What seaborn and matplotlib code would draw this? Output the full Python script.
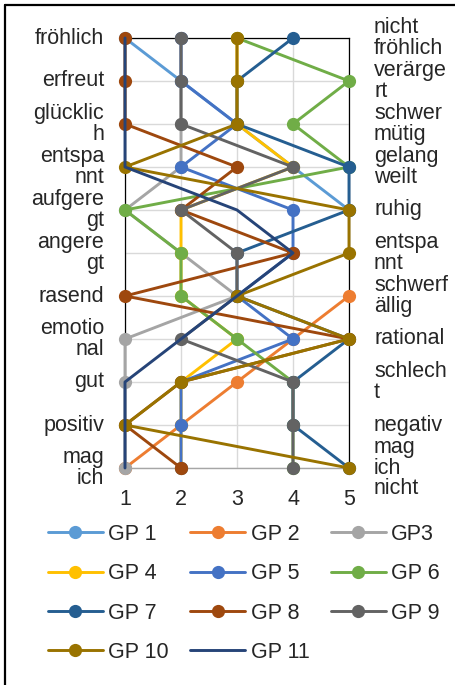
import numpy as np
import pandas as pd
import matplotlib
matplotlib.use("Agg")
import matplotlib.pyplot as plt
from matplotlib.lines import Line2D
import seaborn as sns

# Adjective pairs (left pole / right pole), top to bottom
left_labels = ["fröhlich", "erfreut", "glücklic\nh", "entspa\nnnt", "aufgere\ngt",
               "angere\ngt", "rasend", "emotio\nnal", "gut", "positiv", "mag\nich"]
right_labels = ["nicht\nfröhlich", "verärge\nrt", "schwer\nmütig", "gelang\nweilt", "ruhig",
                "entspa\nnnt", "schwerf\nällig", "rational", "schlech\nt", "negativ", "mag\nich\nnicht"]
scale_ticks = [1, 2, 3, 4, 5]

nan = np.nan
series_names = ["GP 1", "GP 2", "GP3", "GP 4", "GP 5", "GP 6",
                "GP 7", "GP 8", "GP 9", "GP 10", "GP 11"]
gp1 = [1, 2, 3, 4, 5, nan, nan, nan, nan, nan, nan]
gp2 = [nan, nan, nan, nan, nan, nan, 5, 4, 3, 2, 1]
gp3 = [2, 2, 2, 2, 1, 2, 3, 1, 1, 1, 1]
gp4 = [3, 3, 3, 4, 2, 2, 2, 3, 2, 2, 2]
gp5 = [2, 2, 3, 2, 4, 4, 3, 4, 2, 2, 2]
gp6 = [3, 5, 4, 5, 1, 2, 2, 3, 4, 4, 4]
gp7 = [4, 3, 3, 5, 5, 3, 3, 5, 4, 4, 5]
gp8 = [1, 1, 1, 3, 2, 4, 1, 5, 2, 1, 2]
gp9 = [2, 2, 2, 4, 2, 3, 3, 2, 4, 4, 4]
gp10 = [3, 3, 3, 1, 5, 5, 3, 5, 2, 1, 5]
gp11 = [1, 1, 1, 1, 3, 4, 3, 2, 1, 1, 1]
all_series = [gp1, gp2, gp3, gp4, gp5, gp6, gp7, gp8, gp9, gp10, gp11]

colors = ["#5B9BD5", "#ED7D31", "#A5A5A5", "#FFC000", "#4472C4", "#70AD47",
          "#255E91", "#9E480E", "#636363", "#997300", "#264478"]
has_marker = [True] * 10 + [False]

sns.set_style("white")
plt.rcParams["font.family"] = ["Liberation Sans", "DejaVu Sans"]
FS = 15.5

W, H = 455, 685
fig = plt.figure(figsize=(W / 100, H / 100), dpi=100)
ax = fig.add_axes([125 / W, 1 - 468 / H, 224 / W, 430 / H])

rows = np.arange(len(left_labels))
handles = []
for i, (name, vals, col, mk) in enumerate(zip(series_names, all_series, colors, has_marker)):
    df = pd.DataFrame({"wert": vals, "zeile": rows}).dropna()
    sns.lineplot(data=df, x="wert", y="zeile", sort=False, estimator=None, ax=ax,
                 color=col, lw=2.1, marker="o" if mk else None, ms=9.5,
                 markeredgewidth=0, clip_on=False, zorder=3 + i)
    handles.append(Line2D([], [], color=col, lw=2.1, marker="o" if mk else None,
                          ms=9.5, markeredgewidth=0))

ax.set_xlim(1, 5)
ax.set_ylim(len(left_labels) - 1, 0)
ax.set_xlabel("")
ax.set_ylabel("")

# grid and ticks
ax.set_xticks(scale_ticks)
ax.set_xticklabels([str(t) for t in scale_ticks], fontsize=FS)
ax.set_yticks(rows)
ax.set_yticklabels(left_labels, fontsize=FS, va="center")
for t in ax.get_yticklabels():
    t.set_linespacing(1.0)
ax.grid(True, color="#D9D9D9", lw=1.0)
ax.set_axisbelow(True)
ax.tick_params(axis="both", length=0)
ax.tick_params(axis="y", pad=15)
ax.tick_params(axis="x", pad=15)
for side in ["top", "left", "right"]:
    ax.spines[side].set_color("black")
    ax.spines[side].set_linewidth(0.9)
ax.spines["bottom"].set_color("#A6A6A6")
ax.spines["bottom"].set_linewidth(1.0)

# right-hand poles
ax2 = ax.twinx()
ax2.set_ylim(ax.get_ylim())
ax2.set_yticks(rows)
ax2.set_yticklabels(right_labels, fontsize=FS, va="center")
for t in ax2.get_yticklabels():
    t.set_linespacing(1.0)
ax2.tick_params(axis="y", length=0, pad=18)
for s in ax2.spines.values():
    s.set_visible(False)

# legend, filled row by row
order = [0, 3, 6, 9, 1, 4, 7, 10, 2, 5, 8]
fig.legend([handles[k] for k in order], [series_names[k] for k in order],
           ncol=3, loc="upper left", bbox_to_anchor=(48 / W, 1 - 524 / H),
           frameon=False, fontsize=FS, handlelength=2.55, handletextpad=0.25,
           columnspacing=1.0, labelspacing=0.85, borderpad=0, borderaxespad=0)

# outer frame
fig.add_artist(Line2D([5 / W, 1], [1 - 5 / H, 1 - 5 / H], color="black", lw=1.6,
                      transform=fig.transFigure))
fig.add_artist(Line2D([5 / W, 5 / W], [0, 1 - 5 / H], color="black", lw=1.6,
                      transform=fig.transFigure))

fig.savefig("out.png", dpi=100)
